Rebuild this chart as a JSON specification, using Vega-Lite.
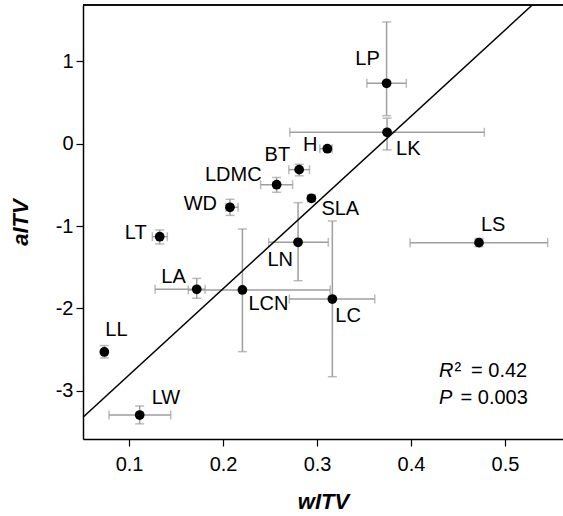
{
  "$schema": "https://vega.github.io/schema/vega-lite/v6.json",
  "width": 480,
  "height": 434,
  "autosize": "none",
  "padding": {"left": 83, "top": 5, "right": 0, "bottom": 77},
  "background": "white",
  "config": {
    "view": {"stroke": null},
    "font": "Liberation Sans",
    "axis": {
      "grid": false, "domain": true, "domainColor": "black", "domainWidth": 1.5, "tickColor": "black", "tickSize": 7, "tickWidth": 1.2,
      "labelFont": "Liberation Sans", "labelFontSize": 20, "labelColor": "black",
      "titleFont": "Liberation Sans", "titleFontSize": 22, "titleFontStyle": "italic", "titleFontWeight": "bold", "titleColor": "black"
    },
    "text": {"font": "Liberation Sans", "fontSize": 20, "color": "black", "baseline": "middle"}
  },
  "datasets": {
    "pts": [
      {"name": "LP", "x": 0.374, "y": 0.733, "xlo": 0.353, "xhi": 0.395, "ylo": 0.34, "yhi": 1.477},
      {"name": "LK", "x": 0.3745, "y": 0.138, "xlo": 0.271, "xhi": 0.478, "ylo": -0.076, "yhi": 0.31},
      {"name": "H", "x": 0.311, "y": -0.061, "xlo": 0.303, "xhi": 0.316, "ylo": -0.09, "yhi": -0.03},
      {"name": "BT", "x": 0.281, "y": -0.315, "xlo": 0.270, "xhi": 0.292, "ylo": -0.39, "yhi": -0.25},
      {"name": "LDMC", "x": 0.257, "y": -0.498, "xlo": 0.240, "xhi": 0.274, "ylo": -0.59, "yhi": -0.41},
      {"name": "SLA", "x": 0.294, "y": -0.663, "xlo": 0.290, "xhi": 0.298, "ylo": -0.70, "yhi": -0.63},
      {"name": "WD", "x": 0.2074, "y": -0.772, "xlo": 0.203, "xhi": 0.216, "ylo": -0.87, "yhi": -0.675},
      {"name": "LT", "x": 0.1326, "y": -1.129, "xlo": 0.1248, "xhi": 0.1407, "ylo": -1.217, "yhi": -1.047},
      {"name": "LN", "x": 0.2798, "y": -1.197, "xlo": 0.2486, "xhi": 0.312, "ylo": -1.663, "yhi": -0.716},
      {"name": "LS", "x": 0.4723, "y": -1.201, "xlo": 0.399, "xhi": 0.5454, "ylo": -1.25, "yhi": -1.15},
      {"name": "LA", "x": 0.172, "y": -1.767, "xlo": 0.1277, "xhi": 0.1809, "ylo": -1.876, "yhi": -1.635},
      {"name": "LCN", "x": 0.2206, "y": -1.775, "xlo": 0.163, "xhi": 0.314, "ylo": -2.524, "yhi": -1.035},
      {"name": "LC", "x": 0.3163, "y": -1.885, "xlo": 0.2705, "xhi": 0.3614, "ylo": -2.828, "yhi": -0.938},
      {"name": "LL", "x": 0.0737, "y": -2.528, "xlo": 0.0717, "xhi": 0.0757, "ylo": -2.60, "yhi": -2.45},
      {"name": "LW", "x": 0.1113, "y": -3.293, "xlo": 0.0787, "xhi": 0.1443, "ylo": -3.40, "yhi": -3.183}
    ],
    "fit": [
      {"x": 0.051, "y": -3.32},
      {"x": 0.529, "y": 1.683}
    ],
    "note": [
      {"stat": "R2", "value": 0.42},
      {"stat": "P", "value": 0.003}
    ]
  },
  "layer": [
    {
      "data": {"name": "pts"},
      "encoding": {
        "x": {"field": "x", "type": "quantitative",
          "scale": {"domain": [0.051, 0.5617], "nice": false, "zero": false},
          "axis": {"values": [0.1, 0.2, 0.3, 0.4, 0.5], "title": "wITV", "labelExpr": "format(datum.value, '.1f')", "labelPadding": 8, "titlePadding": 17}},
        "y": {"field": "y", "type": "quantitative",
          "scale": {"domain": [-3.584, 1.683], "nice": false, "zero": false},
          "axis": {"values": [-3, -2, -1, 0, 1], "title": "aITV", "labelExpr": "'' + datum.value", "labelPadding": 3, "titlePadding": 23}}
      },
      "layer": [
        {
          "mark": {"type": "errorbar", "ticks": {"size": 9}, "color": "#9e9e9e", "thickness": 1.5},
          "encoding": {
            "x": {"field": "xlo", "type": "quantitative"},
            "x2": {"field": "xhi"},
            "y": {"field": "y", "type": "quantitative"}
          }
        },
        {
          "mark": {"type": "errorbar", "ticks": {"size": 9}, "color": "#9e9e9e", "thickness": 1.5},
          "encoding": {
            "x": {"field": "x", "type": "quantitative"},
            "y": {"field": "ylo", "type": "quantitative"},
            "y2": {"field": "yhi"}
          }
        },
        {
          "data": {"name": "fit"},
          "mark": {"type": "line", "color": "black", "strokeWidth": 1.5, "clip": true},
          "encoding": {}
        },
        {
          "mark": {"type": "circle", "color": "black", "opacity": 1, "size": 95}
        },
        {"transform": [{"filter": "datum.name == 'LP'"}], "mark": {"type": "text", "align": "center", "dx": -19, "dy": -24}, "encoding": {"text": {"field": "name"}}},
        {"transform": [{"filter": "datum.name == 'LK'"}], "mark": {"type": "text", "align": "left", "dx": 9, "dy": 17}, "encoding": {"text": {"field": "name"}}},
        {"transform": [{"filter": "datum.name == 'H'"}], "mark": {"type": "text", "align": "right", "dx": -10, "dy": -4}, "encoding": {"text": {"field": "name"}}},
        {"transform": [{"filter": "datum.name == 'BT'"}], "mark": {"type": "text", "align": "right", "dx": -9, "dy": -15}, "encoding": {"text": {"field": "name"}}},
        {"transform": [{"filter": "datum.name == 'LDMC'"}], "mark": {"type": "text", "align": "right", "dx": -15, "dy": -10}, "encoding": {"text": {"field": "name"}}},
        {"transform": [{"filter": "datum.name == 'WD'"}], "mark": {"type": "text", "align": "right", "dx": -13, "dy": -3}, "encoding": {"text": {"field": "name"}}},
        {"transform": [{"filter": "datum.name == 'SLA'"}], "mark": {"type": "text", "align": "left", "dx": 10, "dy": 11}, "encoding": {"text": {"field": "name"}}},
        {"transform": [{"filter": "datum.name == 'LT'"}], "mark": {"type": "text", "align": "right", "dx": -13, "dy": -4}, "encoding": {"text": {"field": "name"}}},
        {"transform": [{"filter": "datum.name == 'LN'"}], "mark": {"type": "text", "align": "right", "dx": -5, "dy": 18}, "encoding": {"text": {"field": "name"}}},
        {"transform": [{"filter": "datum.name == 'LS'"}], "mark": {"type": "text", "align": "left", "dx": 2, "dy": -18}, "encoding": {"text": {"field": "name"}}},
        {"transform": [{"filter": "datum.name == 'LA'"}], "mark": {"type": "text", "align": "right", "dx": -11, "dy": -12}, "encoding": {"text": {"field": "name"}}},
        {"transform": [{"filter": "datum.name == 'LCN'"}], "mark": {"type": "text", "align": "left", "dx": 6, "dy": 14}, "encoding": {"text": {"field": "name"}}},
        {"transform": [{"filter": "datum.name == 'LC'"}], "mark": {"type": "text", "align": "left", "dx": 3, "dy": 17}, "encoding": {"text": {"field": "name"}}},
        {"transform": [{"filter": "datum.name == 'LL'"}], "mark": {"type": "text", "align": "left", "dx": 1, "dy": -22}, "encoding": {"text": {"field": "name"}}},
        {"transform": [{"filter": "datum.name == 'LW'"}], "mark": {"type": "text", "align": "left", "dx": 12, "dy": -17}, "encoding": {"text": {"field": "name"}}}
      ]
    },
    {
      "data": {"name": "note"},
      "transform": [{"filter": "datum.stat == 'R2'"}],
      "encoding": {
        "x": {"datum": 0.4298, "type": "quantitative"},
        "y": {"datum": -2.831, "type": "quantitative"}
      },
      "layer": [
        {"mark": {"type": "text", "align": "left", "baseline": "alphabetic", "fontStyle": "italic"}, "encoding": {"text": {"value": "R"}}},
        {"mark": {"type": "text", "align": "left", "baseline": "alphabetic", "dx": 15.5}, "encoding": {"text": {"value": "²"}}},
        {"mark": {"type": "text", "align": "left", "baseline": "alphabetic", "dx": 32}, "encoding": {"text": {"value": "= 0.42"}}}
      ]
    },
    {
      "data": {"name": "note"},
      "transform": [{"filter": "datum.stat == 'P'"}],
      "encoding": {
        "x": {"datum": 0.4298, "type": "quantitative"},
        "y": {"datum": -3.159, "type": "quantitative"}
      },
      "layer": [
        {"mark": {"type": "text", "align": "left", "baseline": "alphabetic", "fontStyle": "italic"}, "encoding": {"text": {"value": "P"}}},
        {"mark": {"type": "text", "align": "left", "baseline": "alphabetic", "dx": 21.5}, "encoding": {"text": {"value": "= 0.003"}}}
      ]
    },
    {
      "data": {"name": "fit"},
      "mark": {"type": "rule", "color": "black", "strokeWidth": 1.5},
      "encoding": {
        "y": {"datum": 1.683, "type": "quantitative"}
      }
    }
  ]
}
